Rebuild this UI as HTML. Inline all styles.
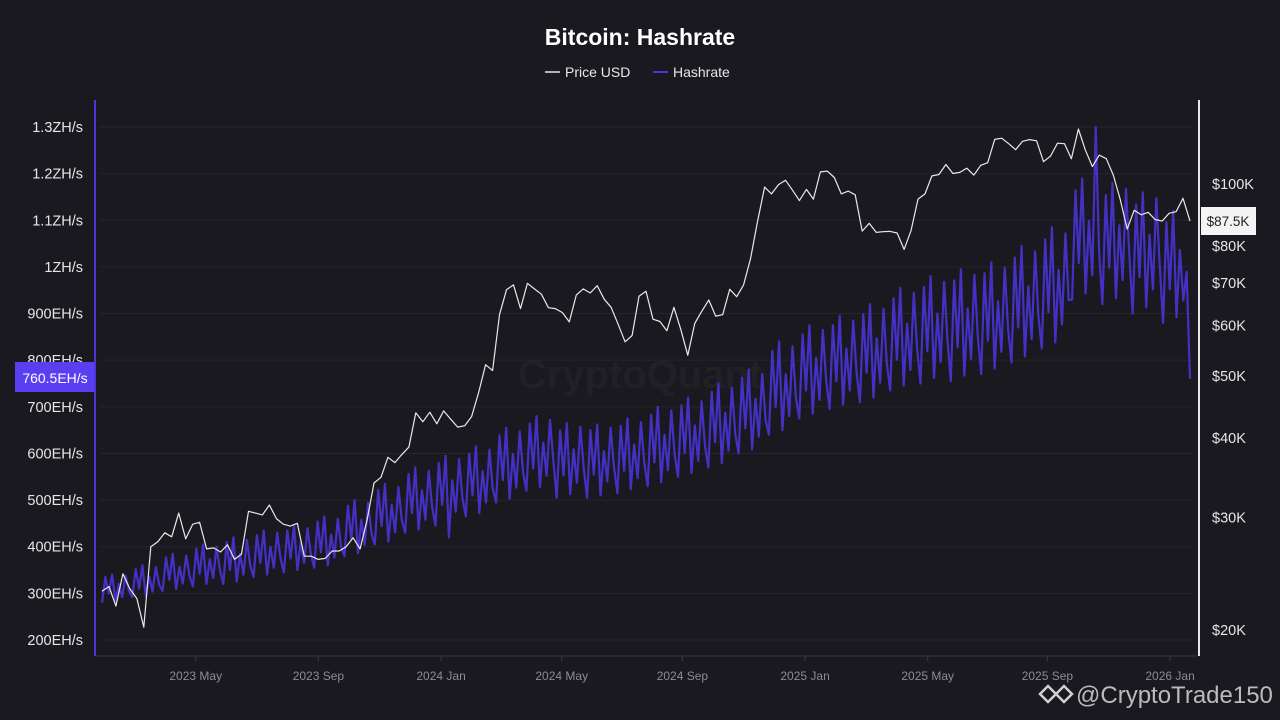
<!DOCTYPE html>
<html><head><meta charset="utf-8">
<style>
html,body{margin:0;padding:0;background:#1a191f;}
svg{display:block;font-family:"Liberation Sans",sans-serif;}
</style></head>
<body>
<svg id="chart" width="1280" height="720" viewBox="0 0 1280 720">
<rect width="1280" height="720" fill="#1a191f"/>
<text x="640" y="45" text-anchor="middle" fill="#ffffff" font-size="23" font-weight="bold">Bitcoin: Hashrate</text>
<g>
<g><line x1="545" y1="72" x2="560" y2="72" stroke="#e8e8e8" stroke-width="1.5"/><text x="565" y="77" fill="#e8e8e8" font-size="14">Price USD</text></g>
<g><line x1="653" y1="72" x2="668" y2="72" stroke="#4b36d6" stroke-width="2"/><text x="673" y="77" fill="#e8e8e8" font-size="14">Hashrate</text></g>
</g>
<text x="640" y="388" text-anchor="middle" fill="#ffffff" fill-opacity="0.03" font-size="40" font-weight="bold">CryptoQuant</text>
<g id="grid"></g>
<g id="yleft"></g>
<g id="yright"></g>
<g id="xaxis"></g>
<g id="series"></g>
<line x1="95" y1="100" x2="95" y2="656" stroke="#4b36d6" stroke-width="2"/>
<line x1="1199" y1="100" x2="1199" y2="656" stroke="#e6e6e6" stroke-width="2"/>
<line x1="95" y1="656" x2="1198" y2="656" stroke="#3a3940" stroke-width="1"/>
<g><rect x="15" y="362" width="79" height="30" fill="#5a3ff0"/><text x="55" y="383" text-anchor="middle" fill="#ffffff" font-size="14">760.5EH/s</text></g>
<g><rect x="1201" y="207" width="55" height="28" fill="#f4f4f4"/><text x="1228" y="226" text-anchor="middle" fill="#222" font-size="13.5">$87.5K</text></g>
<g>
<g transform="translate(1040,694)" fill="none" stroke="#cfcfcf" stroke-width="2.5"><path d="M0 0 l8 -8 l8 8 l-8 8z"/><path d="M16 0 l8 -8 l8 8 l-8 8z"/></g>
<text x="1076" y="703" fill="#d8d8d8" font-size="24" fill-opacity="0.85">@CryptoTrade150</text>
</g>
</svg>
<script>
const hashTicks=[200,300,400,500,600,700,800,900,1000,1100,1200,1300];
const hashTickLabels=["200EH/s","300EH/s","400EH/s","500EH/s","600EH/s","700EH/s","800EH/s","900EH/s","1ZH/s","1.1ZH/s","1.2ZH/s","1.3ZH/s"];
const priceTicks=[20,30,40,50,60,70,80,100];
const priceTickLabels=["$20K","$30K","$40K","$50K","$60K","$70K","$80K","$100K"];
const monthTickDays=[94,217,340,461,582,705,828,948,1071];
const monthTickLabels=["2023 May","2023 Sep","2024 Jan","2024 May","2024 Sep","2025 Jan","2025 May","2025 Sep","2026 Jan"];
// weekly price (K USD) from 2023-01-27
const priceK=[23,23.4,21.8,24.5,23.2,22.4,20.2,27,27.5,28.4,28,30.5,27.8,29.3,29.5,26.8,26.9,26.5,27.2,25.8,26.3,30.7,30.5,30.3,31.4,29.9,29.3,29.1,29.4,26.1,26.1,25.8,25.9,26.6,26.6,27,27.9,26.8,29.7,34,34.7,37.3,36.6,37.7,38.7,43.8,42.4,43.9,42.1,
44.1,42.8,41.6,41.8,43.2,47.1,52.1,51,62.4,68.3,69.5,63.8,69.9,68.5,67.2,64,63.8,62.9,60.8,67,68.5,67.5,69.3,66,64.1,60.3,56.6,57.9,66.7,67.9,61.4,60.9,58.9,64.1,59.1,53.9,60.5,63.2,65.8,62.1,62.4,68.4,66.6,69.5,76.5,87.5,98.9,96.5,99.8,101.4,97.8,94.2,
98.1,94.7,104.5,104.8,102.4,96.5,97.5,96.2,84.4,86.8,84,84.2,84.3,83.8,79,84.5,94.7,96.5,103,103.5,107.3,103.9,104.3,105.9,103.3,107,108,117.5,118,115.7,113.2,116.7,117.4,116.9,108.4,110.6,115.9,115.7,109.6,122,113,106.5,111,109.6,103.3,94.5,85,91,89.5,90.3,88,87.5,
90,90.5,95,87.5];
// hashrate (EH/s), ~3.4 day steps from 2023-01-27
const hashrate=[280,335,300,340,283,320,292,338,305, 292,352,310,360,294,336,304,356,318, 305,377,329,385,309,357,321,381,337,
315,396,342,405,320,373,333,400,351, 320,410,350,420,325,385,340,415,360, 335,425,365,435,340,400,355,430,375,
345,435,375,445,350,410,365,440,385, 355,454,388,465,360,426,377,460,399, 380,488,416,500,386,458,404,494,428,
405,522,444,535,411,490,431,528,457, 430,556,472,570,437,521,458,563,486, 445,580,490,595,420,542,475,588,505,
465,600,510,615,472,562,495,608,525, 495,639,543,655,503,599,527,647,559, 520,664,568,680,528,624,552,672,584,
505,649,553,665,513,609,537,657,569, 505,650,555,662,510,605,540,655,570, 515,659,563,675,523,619,547,667,579,
530,683,581,700,538,640,564,692,598, 550,703,601,720,558,660,584,712,618, 570,732,624,750,579,687,606,741,642,
600,762,654,780,609,717,636,771,672, 640,820,700,840,650,770,680,830,720, 675,855,735,875,685,805,715,865,755,
695,875,755,895,705,825,735,885,775, 710,899,773,920,720,847,752,910,794, 735,933,801,955,746,878,779,944,823,
750,957,819,980,762,900,796,968,842, 755,971,827,995,767,911,803,983,851, 770,986,842,1010,782,926,818,998,866,
795,1020,870,1045,808,958,845,1033,895, 825,1059,903,1085,838,994,877,1072,929, 930,1164,1008,1190,943,1099,982,1300,1034,
920,1154,998,1180,933,1089,972,1167,1024, 900,1134,978,1160,913,1069,952,1147,1004, 880,1096,952,1120,892,1036,928,990,760];
const SPAN=1091;
const X0=102,X1=1190;
function xDay(d){return X0+(X1-X0)*d/SPAN;}
function yHash(h){return 640-(h-200)*(513/1100);}
function yPrice(p){return 630-638*Math.log10(p/20);}
const NS="http://www.w3.org/2000/svg";
function mk(tag,attrs,parent){const e=document.createElementNS(NS,tag);for(const k in attrs)e.setAttribute(k,attrs[k]);parent.appendChild(e);return e;}
const grid=document.getElementById('grid'),yl=document.getElementById('yleft'),yr=document.getElementById('yright'),xa=document.getElementById('xaxis'),se=document.getElementById('series');
hashTicks.forEach((v,i)=>{
  const y=yHash(v);
  const g=mk('line',{x1:100,y1:y,x2:1192,y2:y,stroke:'#26252c','stroke-width':1},grid);
  
  
  const t=mk('text',{x:83,y:y+5,'text-anchor':'end',fill:'#e6e6e6','font-size':14.5},yl);
  t.textContent=hashTickLabels[i];
  
  
});
priceTicks.forEach((v,i)=>{
  const t=mk('text',{x:1212,y:yPrice(v)+5,fill:'#e6e6e6','font-size':14.5},yr);
  t.textContent=priceTickLabels[i];
  
  
});
monthTickLabels.forEach((lab,i)=>{
  const x=xDay(monthTickDays[i]);
  mk('line',{x1:x,y1:656,x2:x,y2:661,stroke:'#3a3940'},xa);
  const t=mk('text',{x:x,y:680,'text-anchor':'middle',fill:'#8d8c93','font-size':12},xa);
  t.textContent=lab;
  
  
});
let hp=hashrate.map((v,i)=>xDay(i*SPAN/(hashrate.length-1)).toFixed(1)+','+yHash(v).toFixed(1)).join(' ');
const hl=mk('polyline',{points:hp,fill:'none',stroke:'#4530c4','stroke-width':2.2,'stroke-linejoin':'round'},se);


let pp=priceK.map((v,i)=>xDay(i*SPAN/(priceK.length-1)).toFixed(1)+','+yPrice(v).toFixed(1)).join(' ');
const pl=mk('polyline',{points:pp,fill:'none',stroke:'#e8e8e8','stroke-width':1.2,'stroke-linejoin':'round'},se);


</script>
</body></html>
